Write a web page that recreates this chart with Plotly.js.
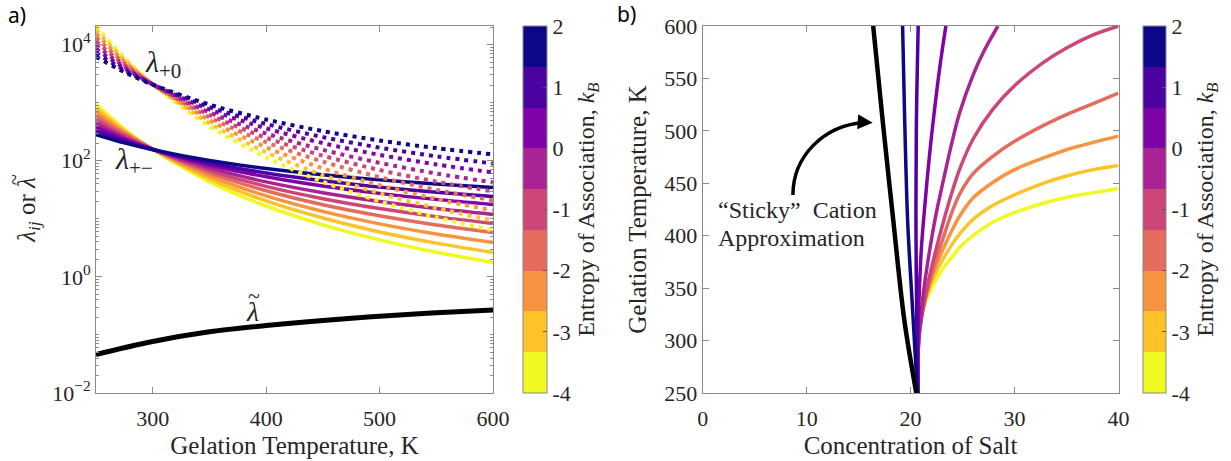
<!DOCTYPE html>
<html><head><meta charset="utf-8">
<script src="https://cdn.plot.ly/plotly-3.0.1.min.js"></script>
<style>html,body{margin:0;padding:0;background:#fff}#chart{width:1231px;height:461px}</style>
</head><body><div id="chart"></div>
<script>
// ================= DATA =================
// entropy of association levels (kB), one per coloured curve, navy -> yellow
const entropyLevels = [2, 1.25, 0.5, -0.25, -1, -1.75, -2.5, -3.25, -4];
const colorbarTicks = [2, 1, 0, -1, -2, -3, -4];
const colorbarTickText = ['2', '1', '0', '-1', '-2', '-3', '-4'];

// ---- panel a: gelation temperature (K) ----
const tempA = [250, 275, 300, 350, 400, 450, 500, 550, 600];

// lambda_{+0} (dotted), one array per entropy level
const lamP0_k1 = [6166, 3370, 2039, 925, 512, 323, 223, 165, 128.5];
const lamP0_k2 = [7178, 3627, 2053, 840, 429, 255, 168, 119, 89.7];
const lamP0_k3 = [8365, 3904, 2068, 762, 361, 201, 126, 86.3, 62.8];
const lamP0_k4 = [9750, 4176, 2060, 678, 295, 154, 91.9, 60.2, 42.3];
const lamP0_k5 = [11350, 4489, 2073, 616, 248, 122, 69.2, 43.5, 29.6];
const lamP0_k6 = [13210, 4828, 2086, 558, 208, 96.3, 52.1, 31.5, 20.7];
const lamP0_k7 = [15400, 5167, 2078, 497, 170, 73.8, 37.8, 21.9, 13.9];
const lamP0_k8 = [17950, 5526, 2070, 443, 139, 56.6, 27.5, 15.3, 9.35];
const lamP0_k9 = [20890, 5903, 2059, 393, 114, 43.3, 20.0, 10.6, 6.28];

// lambda_{+-} (solid), one array per entropy level
const lamPM_k1 = [282, 203, 155, 101, 73.3, 57.1, 46.8, 39.7, 34.7];
const lamPM_k2 = [327, 218, 156, 91.4, 61.4, 45.0, 35.1, 28.7, 24.2];
const lamPM_k3 = [380, 236, 158, 84.6, 52.9, 36.7, 27.4, 21.6, 17.7];
const lamPM_k4 = [442, 251, 157, 75.1, 43.2, 28.1, 19.9, 15.0, 11.9];
const lamPM_k5 = [513, 270, 158, 68.1, 36.2, 22.2, 15.0, 10.9, 8.30];
const lamPM_k6 = [596, 290, 159, 61.7, 30.4, 17.5, 11.3, 7.85, 5.81];
const lamPM_k7 = [692, 309, 158, 54.8, 24.8, 13.4, 8.17, 5.46, 3.90];
const lamPM_k8 = [804, 329, 157, 48.7, 20.3, 10.3, 5.94, 3.81, 2.62];
const lamPM_k9 = [933, 351, 156, 43.3, 16.6, 7.86, 4.33, 2.65, 1.77];

// lambda tilde (black)
const tempTilde = [250, 300, 350, 400, 450, 500, 550, 600];
const lamTilde = [0.046, 0.077, 0.113, 0.145, 0.178, 0.21, 0.24, 0.27];

// ---- panel b: concentration of salt vs gelation temperature ----
const stickyConc = [16.40, 17.31, 18.33, 19.39, 20.55];
const stickyTemp = [600, 510, 415, 320, 250];

const concB_k1 = [20.65, 20.45, 20.25, 19.95, 19.71, 19.55, 19.42, 19.32, 19.23];
const tempB_k1 = [250, 285, 320, 370, 415, 465, 515, 560, 600];
const concB_k2 = [20.70, 20.62, 20.52, 20.55, 20.73];
const tempB_k2 = [250, 300, 400, 500, 600];
const concB_k3 = [20.70, 20.70, 20.72, 20.85, 21.05, 21.38, 21.80, 22.24, 22.80, 23.39];
const tempB_k3 = [250, 285, 310, 350, 390, 430, 475, 515, 560, 600];
const concB_k4 = [20.70, 20.70, 20.75, 20.90, 21.20, 21.70, 22.40, 23.20, 24.00, 24.74, 26.00, 27.00, 28.40];
const tempB_k4 = [250, 280, 295, 315, 343, 378, 418, 455, 490, 518, 553, 575, 600];
const concB_k5 = [20.70, 20.70, 20.75, 20.90, 21.20, 21.70, 22.40, 23.20, 24.00, 24.74, 26.00, 27.94, 30.00, 32.75, 35.00, 37.56, 40];
const tempB_k5 = [250, 280, 294, 311, 330, 356, 385, 415, 442, 464, 492, 521, 543, 565, 579, 591.5, 600];
const concB_k6 = [20.70, 20.70, 20.75, 20.90, 21.20, 21.70, 22.40, 23.20, 24.00, 24.74, 26.00, 27.94, 30.00, 32.75, 35.00, 37.56, 40];
const tempB_k6 = [250, 282, 296, 313, 331, 352, 376, 400, 423, 440, 459, 476, 490, 505, 515.5, 526, 536];
const concB_k7 = [20.70, 20.70, 20.75, 20.90, 21.20, 21.70, 22.40, 23.20, 24.00, 24.74, 26.00, 27.94, 30.00, 32.75, 35.00, 37.56, 40];
const tempB_k7 = [250, 285, 300, 316, 331, 349, 370, 389, 405.5, 419, 436, 451, 463, 474, 482, 489, 495];
const concB_k8 = [20.70, 20.70, 20.75, 20.90, 21.20, 21.70, 22.40, 23.20, 24.00, 24.74, 26.00, 27.94, 30.00, 32.75, 35.00, 37.56, 40];
const tempB_k8 = [250, 290, 305, 320, 333, 348, 364, 379, 392, 402, 415.5, 429, 439, 450, 457, 463, 467];
const concB_k9 = [20.70, 20.70, 20.75, 20.90, 21.20, 21.70, 22.40, 23.20, 24.00, 24.74, 26.00, 27.94, 30.00, 32.75, 35.00, 37.56, 40];
const tempB_k9 = [250, 290, 305, 318, 330, 343, 357, 370, 380, 389, 400, 413, 422, 431, 436.5, 441, 445];

// ================= STYLE =================
const palette = ['#0d0887', '#4c02a1', '#7e03a8', '#a92395', '#cc4778', '#e56b5d', '#f89441', '#fdc328', '#f0f921'];
const FONT = 'Liberation Serif';
const TXT = '#262626';
const AX = '#8a8a8a';
const W = 1231, H = 461;
const px = v => v / W, py = v => 1 - v / H;

const lamP0 = [lamP0_k1, lamP0_k2, lamP0_k3, lamP0_k4, lamP0_k5, lamP0_k6, lamP0_k7, lamP0_k8, lamP0_k9];
const lamPM = [lamPM_k1, lamPM_k2, lamPM_k3, lamPM_k4, lamPM_k5, lamPM_k6, lamPM_k7, lamPM_k8, lamPM_k9];
const concB = [concB_k1, concB_k2, concB_k3, concB_k4, concB_k5, concB_k6, concB_k7, concB_k8, concB_k9];
const tempB = [tempB_k1, tempB_k2, tempB_k3, tempB_k4, tempB_k5, tempB_k6, tempB_k7, tempB_k8, tempB_k9];

const traces = [];
for (let i = entropyLevels.length - 1; i >= 0; i--) {
  traces.push({x: tempA, y: lamPM[i], type: 'scatter', mode: 'lines', xaxis: 'x', yaxis: 'y',
    name: 'λ+− kB=' + entropyLevels[i], showlegend: false, hoverinfo: 'skip',
    line: {color: palette[i], width: 3.5, shape: 'spline', smoothing: 0.8}});
}
for (let i = entropyLevels.length - 1; i >= 0; i--) {
  traces.push({x: tempA, y: lamP0[i], type: 'scatter', mode: 'lines', xaxis: 'x', yaxis: 'y',
    name: 'λ+0 kB=' + entropyLevels[i], showlegend: false, hoverinfo: 'skip',
    line: {color: palette[i], width: 4, dash: '4px,5px', shape: 'spline', smoothing: 0.8}});
}
traces.push({x: tempTilde, y: lamTilde, type: 'scatter', mode: 'lines', xaxis: 'x', yaxis: 'y',
  name: 'λ tilde', showlegend: false, hoverinfo: 'skip', line: {color: '#000', width: 5, shape: 'spline'}});

for (let i = entropyLevels.length - 1; i >= 0; i--) {
  traces.push({x: concB[i], y: tempB[i], type: 'scatter', mode: 'lines', xaxis: 'x2', yaxis: 'y2',
    name: 'kB=' + entropyLevels[i], showlegend: false, hoverinfo: 'skip',
    line: {color: palette[i], width: 3.5, shape: 'spline', smoothing: 1}});
}
traces.push({x: stickyConc, y: stickyTemp, type: 'scatter', mode: 'lines', xaxis: 'x2', yaxis: 'y2',
  name: 'Sticky cation', showlegend: false, hoverinfo: 'skip', line: {color: '#000', width: 4.5, shape: 'spline'}});

// discrete colour scale (cmin=-4 yellow ... cmax=2 navy)
const nb = palette.length;
const cscale = [];
for (let j = 0; j < nb; j++) {
  const c = palette[nb - 1 - j];
  cscale.push([j / nb, c]);
  cscale.push([(j + 1) / nb, c]);
}
function cbar(xpix, thick, xa, ya) {
  return {x: [null], y: [null], type: 'scatter', mode: 'markers', xaxis: xa, yaxis: ya,
    showlegend: false, hoverinfo: 'skip',
    marker: {color: [0], colorscale: cscale, cmin: -4, cmax: 2, showscale: true, size: 1,
      colorbar: {x: px(xpix), xanchor: 'left', y: py(26), yanchor: 'top', len: 367 / H, lenmode: 'fraction',
        thickness: thick, thicknessmode: 'pixels', xpad: 0, ypad: 0,
        outlinewidth: 1, outlinecolor: AX,
        tickmode: 'array', tickvals: colorbarTicks, ticktext: colorbarTickText,
        ticks: 'inside', ticklen: 4, tickcolor: '#555', tickwidth: 1,
        tickfont: {family: FONT, size: 22, color: TXT},
        title: {text: 'Entropy of Association, <i>k</i><sub><i>B</i></sub>', side: 'right',
          font: {family: FONT, size: 24, color: TXT}}}}};
}
traces.push(cbar(523, 24, 'x', 'y'));
traces.push(cbar(1143, 23, 'x2', 'y2'));

const minorVals = [];
for (let e = -2; e <= 4; e++) {
  for (let k = 1; k <= 9; k++) {
    if (k === 1 && e % 2 === 0) continue;
    minorVals.push(k * Math.pow(10, e));
  }
}

const axBase = {showline: true, linecolor: AX, linewidth: 1, mirror: 'allticks', ticks: 'inside',
  ticklen: 6, tickcolor: AX, tickwidth: 1, showgrid: false, zeroline: false,
  tickfont: {family: FONT, size: 22, color: TXT}};

function label(x, y, text, size, extra) {
  return Object.assign({xref: 'paper', yref: 'paper', x: px(x), y: py(y), xanchor: 'center', yanchor: 'middle',
    showarrow: false, text: text, font: {family: FONT, size: size, color: TXT}}, extra || {});
}

const layout = {
  width: W, height: H, margin: {l: 0, r: 0, t: 0, b: 0}, paper_bgcolor: '#fff', plot_bgcolor: '#fff',
  showlegend: false,
  xaxis: Object.assign({}, axBase, {domain: [px(96), px(493)], range: [250, 600], anchor: 'y',
    tickmode: 'array', tickvals: [300, 400, 500, 600], ticklabelstandoff: 6,
    title: {text: 'Gelation Temperature, K', font: {family: FONT, size: 25, color: TXT}, standoff: 6}}),
  yaxis: Object.assign({}, axBase, {domain: [py(393), py(26)], type: 'log', range: [-2, 4.32], anchor: 'x',
    tickmode: 'array', tickvals: [0.01, 1, 100, 10000],
    ticktext: ['10<sup>−2</sup>', '10<sup>0</sup>', '10<sup>2</sup>', '10<sup>4</sup>'],
    minor: {tickmode: 'array', tickvals: minorVals, ticks: 'inside', ticklen: 3, tickcolor: AX},
    title: {text: '<i>λ<sub>ij</sub></i> or <i>λ</i>', font: {family: FONT, size: 25, color: TXT}, standoff: 9}}),
  xaxis2: Object.assign({}, axBase, {domain: [px(702.7), px(1118.5)], range: [0, 40], anchor: 'y2',
    tickmode: 'array', tickvals: [0, 10, 20, 30, 40], ticklabelstandoff: 6,
    title: {text: 'Concentration of Salt', font: {family: FONT, size: 25, color: TXT}, standoff: 6}}),
  yaxis2: Object.assign({}, axBase, {domain: [py(393), py(26)], range: [250, 600], anchor: 'x2',
    tickmode: 'array', tickvals: [250, 300, 350, 400, 450, 500, 550, 600],
    title: {text: 'Gelation Temperature, K', font: {family: FONT, size: 25, color: TXT}, standoff: 10}}),
  annotations: [
    label(6, 15, 'a)', 21, {xanchor: 'left', font: {family: 'Noto Sans', size: 21, color: '#000'}}),
    label(615, 14, 'b)', 21, {xanchor: 'left', font: {family: 'Noto Sans', size: 21, color: '#000'}}),
    // tilde over the last lambda of the rotated y title
    label(14, 180, '~', 20, {textangle: -90}),
    label(163, 64, '<i>λ</i><sub>+0</sub>', 30),
    label(134, 161, '<i>λ</i><sub>+−</sub>', 30),
    label(252, 311, '<i>λ</i>', 28),
    label(254, 295, '~', 22),
    label(716, 210, '“Sticky”  Cation', 24, {xanchor: 'left'}),
    label(716, 238, 'Approximation', 24, {xanchor: 'left'}),
    {xref: 'x2', yref: 'y2', axref: 'x2', ayref: 'y2', x: 16.35, y: 507.7, ax: 15.2, ay: 508.5,
      text: '', showarrow: true, arrowhead: 2, arrowsize: 1, arrowwidth: 3, arrowcolor: '#000'}
  ],
  shapes: [
    {type: 'path', xref: 'x2', yref: 'y2', path: 'M 8.68,438.8 C 8.68,475.3 11.6,505.5 15.6,508',
      line: {color: '#000', width: 3.5}}
  ]
};

Plotly.newPlot('chart', traces, layout, {staticPlot: true, displayModeBar: false});
</script>
</body></html>
